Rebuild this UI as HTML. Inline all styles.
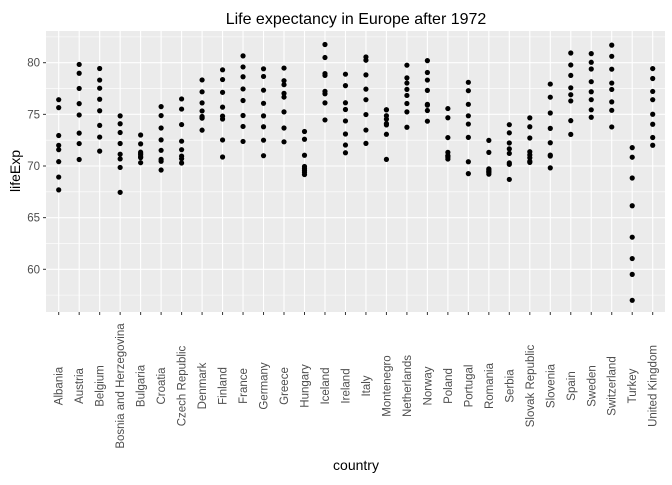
<!DOCTYPE html>
<html><head><meta charset="utf-8"><style>
body{margin:0;background:#fff;font-family:"Liberation Sans",Arial,sans-serif}
</style></head><body>
<svg id="chart" width="672" height="480" xmlns="http://www.w3.org/2000/svg">
<rect width="672" height="480" fill="#fff"/>
<text x="356" y="24" text-anchor="middle" font-size="16" fill="#000">Life expectancy in Europe after 1972</text>
<rect x="46" y="31" width="619" height="281" fill="#ebebeb"/>
<g id="grid"></g><g id="pts"></g><g id="axes"></g>
<text x="356" y="470" text-anchor="middle" font-size="14" fill="#000">country</text>
<text transform="translate(20,171) rotate(-90)" text-anchor="middle" font-size="14" fill="#000">lifeExp</text>
</svg>
<script>
const countries=["Albania","Austria","Belgium","Bosnia and Herzegovina","Bulgaria","Croatia","Czech Republic","Denmark","Finland","France","Germany","Greece","Hungary","Iceland","Ireland","Italy","Montenegro","Netherlands","Norway","Poland","Portugal","Romania","Serbia","Slovak Republic","Slovenia","Spain","Sweden","Switzerland","Turkey","United Kingdom"];
const lifeExp=[
[67.69,68.93,70.42,72.00,71.58,72.95,75.65,76.42],
[70.63,72.17,73.18,74.94,76.04,77.51,78.98,79.83],
[71.44,72.8,73.93,75.35,76.46,77.53,78.32,79.44],
[67.45,69.86,70.69,71.14,72.18,73.24,74.09,74.85],
[70.9,70.81,71.08,71.34,71.19,70.32,72.14,73.0],
[69.61,70.64,70.46,71.52,72.53,73.68,74.88,75.75],
[70.29,70.71,70.96,71.58,72.4,74.01,75.51,76.49],
[73.47,74.69,74.63,74.8,75.33,76.11,77.18,78.33],
[70.87,72.52,74.55,74.83,75.7,77.13,78.37,79.31],
[72.38,73.83,74.89,76.34,77.46,78.64,79.59,80.66],
[71.0,72.5,73.8,74.85,76.07,77.34,78.67,79.41],
[72.34,73.68,75.24,76.67,77.03,77.87,78.26,79.48],
[69.76,69.95,69.39,69.58,69.17,71.04,72.59,73.34],
[74.46,76.11,76.99,77.23,78.77,78.95,80.5,81.76],
[71.28,72.03,73.1,74.36,75.47,76.12,77.78,78.89],
[72.19,73.48,74.98,76.42,77.44,78.82,80.24,80.55],
[70.64,73.07,74.1,74.87,75.44,75.45,73.98,74.54],
[73.75,75.24,76.05,76.83,77.42,78.03,78.53,79.76],
[74.34,75.37,75.97,75.89,77.32,78.32,79.05,80.2],
[70.85,70.67,71.32,70.98,70.99,72.75,74.67,75.56],
[69.26,70.41,72.77,74.06,74.86,75.97,77.29,78.1],
[69.21,69.46,69.66,69.53,69.36,69.72,71.32,72.48],
[68.7,70.3,70.16,71.22,71.66,72.23,73.21,74.0],
[70.35,70.45,70.8,71.08,71.38,72.71,73.8,74.66],
[69.82,70.97,71.06,72.25,73.64,75.13,76.66,77.93],
[73.06,74.39,76.3,76.9,77.57,78.77,79.78,80.94],
[74.72,75.44,76.42,77.19,78.16,79.39,80.04,80.88],
[73.78,75.39,76.21,77.41,78.03,79.37,80.62,81.7],
[57.0,59.51,61.04,63.11,66.15,68.84,70.85,71.78],
[72.01,72.76,74.04,75.01,76.42,77.22,78.47,79.43]];
const yTicks=[60,65,70,75,80];
const NS="http://www.w3.org/2000/svg";
const L=46,R=665,T=31,B=312;
const x0=58.7,dx=(652.7-58.7)/29;
const xs=i=>x0+i*dx;
const ys=v=>269.3-(v-60)*10.33;
function mk(t,a,p){const e=document.createElementNS(NS,t);for(const k in a)e.setAttribute(k,a[k]);p.appendChild(e);return e;}
const grid=document.getElementById('grid'),pts=document.getElementById('pts'),axes=document.getElementById('axes');
for(let i=0;i<yTicks.length+1;i++){
  const v=yTicks[0]-2.5+i*5;const y=ys(v);
  if(y<T||y>B)continue;
  const g=mk('line',{x1:L,x2:R,y1:y,y2:y,stroke:'#fff','stroke-width':0.6},grid);
  
  
}
yTicks.forEach(v=>{
  const y=ys(v);
  const g=mk('line',{x1:L,x2:R,y1:y,y2:y,stroke:'#fff','stroke-width':1.1},grid);
  
  
  const tk=mk('line',{x1:L-3,x2:L,y1:y,y2:y,stroke:'#333','stroke-width':1},axes);
  
  
  const t=mk('text',{x:L-6,y:y+4,'text-anchor':'end','font-size':11.5,fill:'#4d4d4d'},axes);
  t.textContent=v;
  
  
});
countries.forEach((c,i)=>{
  const x=xs(i);
  const g=mk('line',{x1:x,x2:x,y1:T,y2:B,stroke:'#fff','stroke-width':1.1},grid);
  
  
  const tk=mk('line',{x1:x,x2:x,y1:B,y2:B+3,stroke:'#333','stroke-width':1},axes);
  
  
  const t=mk('text',{transform:`translate(${x+4},386) rotate(-90)`,'text-anchor':'middle','font-size':11.5,fill:'#4d4d4d'},axes);
  t.textContent=c;
  
  
  lifeExp[i].forEach(v=>{
    const p=mk('circle',{cx:x,cy:ys(v),r:2.6,fill:'#000'},pts);
    
    
  });
});
</script>
</body></html>
